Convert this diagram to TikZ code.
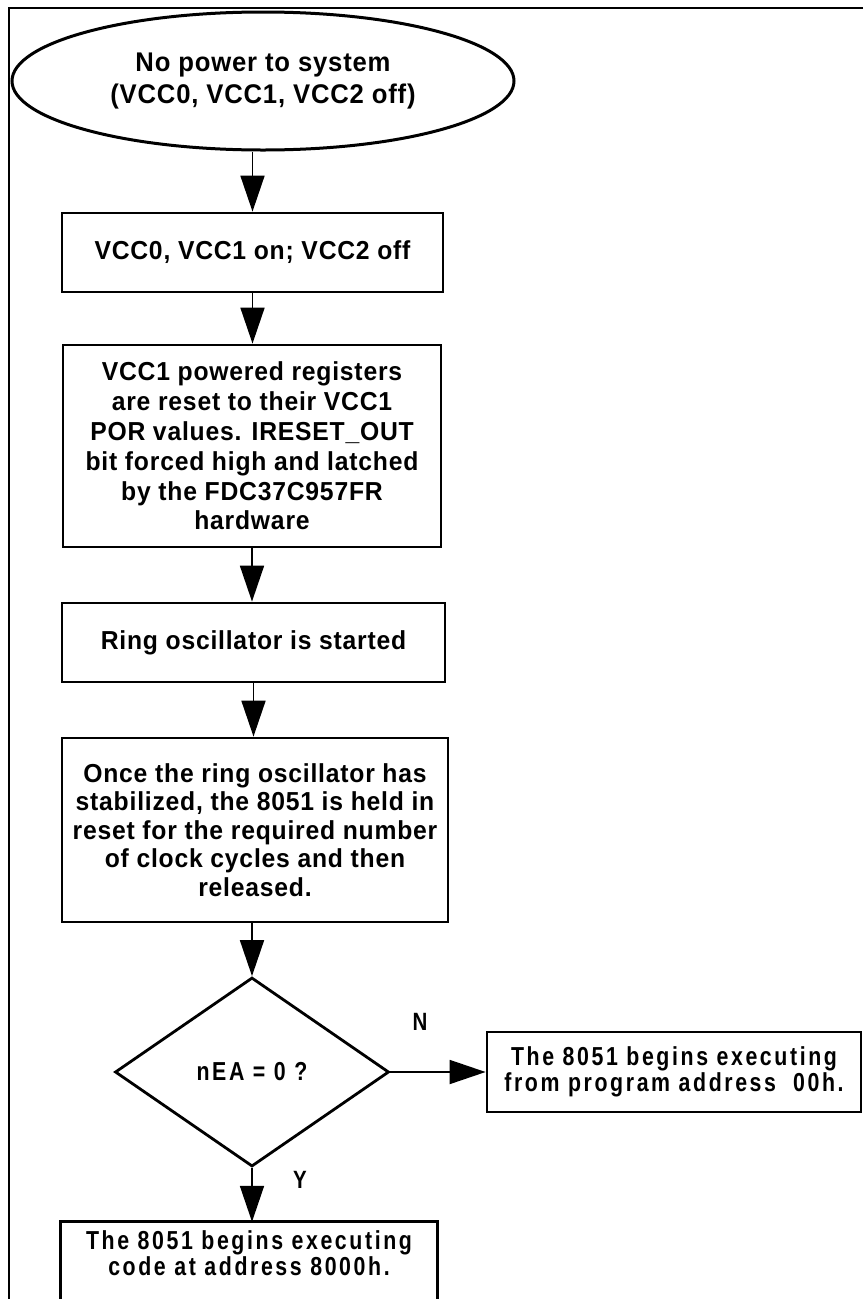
\documentclass[tikz,border=0pt]{standalone}
\usepackage{fontspec}
\setmainfont{Liberation Sans}[LetterSpace=3,FakeStretch=0.95]
\newfontfamily\narrowfont{Liberation Sans}[FakeStretch=0.82,LetterSpace=10]
\usetikzlibrary{shapes.geometric,arrows.meta,positioning}

\begin{document}
\begin{tikzpicture}[x=1pt, y=-1pt,
    box/.style={draw, line width=2.8pt, inner sep=0pt, align=center, font=\bfseries\fontsize{26}{29.8}\selectfont},
    narrow/.style={font=\narrowfont\bfseries\fontsize{26}{26}\selectfont},
    flow/.style={line width=1.8pt, -{Triangle[length=36pt,width=24pt]}},
    tag/.style={font=\narrowfont\bfseries\fontsize{25}{25}\selectfont}]
    \useasboundingbox (0,0) rectangle (863,1299);
    \clip (0,0) rectangle (863,1299);

    % Frame
    \draw[line width=2.6pt] (863,8) -- (9,8) -- (9,1299);

    % Start
    \node[ellipse, draw, line width=3pt, inner sep=0pt, minimum width=502pt, minimum height=138pt,
          align=center, font=\bfseries\fontsize{27}{32}\selectfont] (start) at (263,81)
          {No power to system\\(VCC0, VCC1, VCC2 off)};

    % Steps
    \node[box, minimum width=381pt, minimum height=79pt] (on) at (252.5,252.5) {VCC0, VCC1 on; VCC2 off};
    \node[box, minimum width=378pt, minimum height=202pt] (por) at (252,446)
        {VCC1 powered registers\\are reset to their VCC1\\POR values. IRESET\_OUT\\bit forced high and latched\\by the FDC37C957FR\\hardware};
    \node[box, minimum width=383pt, minimum height=79pt] (ring) at (253.5,642.5) {Ring oscillator is started};
    \node[box, minimum width=386pt, minimum height=184pt, font=\bfseries\fontsize{26}{28.5}\selectfont] (hold) at (255,830)
        {Once the ring oscillator has\\stabilized, the 8051 is held in\\reset for the required number\\of clock cycles and then\\released.};

    % Decision
    \node[diamond, draw, line width=2.8pt, inner sep=0pt, minimum width=274pt, minimum height=189pt, narrow] (dec) at (252,1072) {nEA = 0 ?};

    % Outcomes
    \node[box, narrow, minimum width=374pt, minimum height=80pt] (ex00) at (674,1072)
        {The 8051 begins executing\\from program address\ \ 00h.};
    \node[inner sep=0pt, minimum width=376pt, minimum height=62pt, align=center, narrow] (ex8000) at (249,1253)
        {The 8051 begins executing\\code at address 8000h.};
    \coordinate (floor) at (0,1306);
    \draw[line width=2.8pt] (ex8000.west |- floor) -- (ex8000.north west) -- (ex8000.north east) -- (ex8000.east |- floor);

    % Labels
    \node[tag] (lblN) at (420,1022) {N};
    \node[tag] (lblY) at (300,1180) {Y};

    % Connections
    \draw[flow] (start.south -| on.north) -- (on.north);
    \draw[flow] (on.south) -- (por.north -| on.south);
    \draw[flow] (por.south) -- (ring.north -| por.south);
    \draw[flow] (ring.south) -- (hold.north -| ring.south);
    \draw[flow] (hold.south -| dec.north) -- (dec.north);
    \draw[flow] (dec.east) -- (ex00.west);
    \draw[flow] (dec.south) -- (ex8000.north -| dec.south);
\end{tikzpicture}
\end{document}
